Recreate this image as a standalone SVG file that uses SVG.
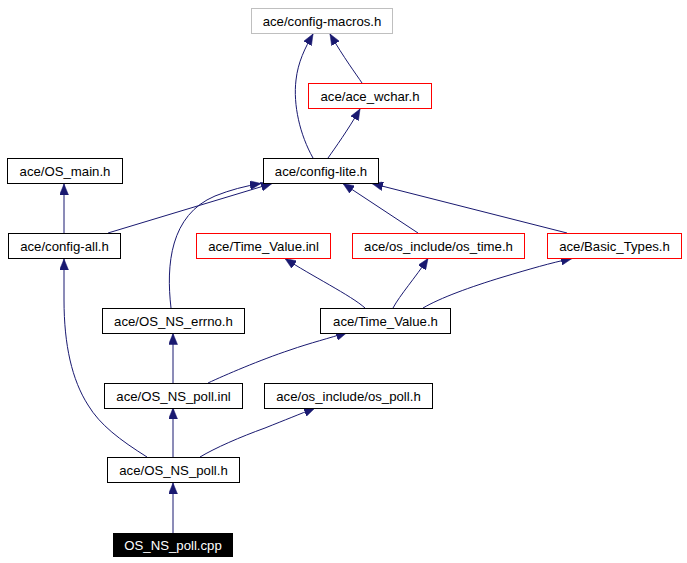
<svg xmlns="http://www.w3.org/2000/svg" width="687" height="563" viewBox="0 0 687 563">
<style>
.n rect{fill:#ffffff;stroke:#000000;stroke-width:1}
.n.red rect{stroke:#ff0000}
.n.gray rect{stroke:#bfbfbf}
.n.root rect{fill:#000000;stroke:#000000}
.n text{font-family:"Liberation Sans",Arial,sans-serif;font-size:13.2px;fill:#000000;text-anchor:middle}
.n.root text{fill:#ffffff}
#edges path{fill:none;stroke:#191970;stroke-width:1;marker-end:url(#arr)}
</style>
<defs>
<marker id="arr" viewBox="0 0 11 9" refX="11" refY="4.5" markerWidth="11" markerHeight="9" markerUnits="userSpaceOnUse" orient="auto">
<path d="M0,0 L11,4.5 L0,9 z" fill="#191970" stroke="#191970" stroke-width="0.5"/>
</marker>
</defs>
<rect x="0" y="0" width="687" height="563" fill="#ffffff"/>
<g id="edges">
<path d="M313,158 C300,135 293,105 296,80 C298,62 305,48 313,34"/>
<path d="M362,83 C356,74 344,58 330,34"/>
<path d="M328,158 C335,148 348,130 360,109"/>
<path d="M64,233 L64,184"/>
<path d="M108,233 L272,183.5"/>
<path d="M171,308 C166,265 170,215 215,196 C230,190 245,186 261,183.5"/>
<path d="M418,233 L343,183.5"/>
<path d="M567,233 L372,183.5"/>
<path d="M365,308 C352,296 310,275 285,258.5"/>
<path d="M393,308 C400,295 415,278 428,258.5"/>
<path d="M423,308 C440,298 470,287 503,277 C530,269 550,263 572,258.5"/>
<path d="M173,383 L173,333.5"/>
<path d="M208,383 C225,375 260,360 290,350 C310,343 330,338 347,332.5"/>
<path d="M147,457 C120,440 100,425 88,405 C72,380 64,345 64,300 L64,259"/>
<path d="M173,457 L173,408"/>
<path d="M200,457 C215,448 240,437 265,428 C285,420 300,414 315,408"/>
<path d="M173,533 L173,483"/>
</g>
<g id="n_config_macros" class="n gray"><rect x="251.5" y="8.5" width="141" height="25"/><text x="322" y="26">ace/config-macros.h</text></g>
<g id="n_ace_wchar" class="n red"><rect x="308.5" y="83.5" width="123" height="25"/><text x="370" y="101">ace/ace_wchar.h</text></g>
<g id="n_os_main" class="n"><rect x="7.5" y="158.5" width="115" height="25"/><text x="65" y="176">ace/OS_main.h</text></g>
<g id="n_config_lite" class="n"><rect x="263.5" y="158.5" width="115" height="25"/><text x="321" y="176">ace/config-lite.h</text></g>
<g id="n_config_all" class="n"><rect x="8.5" y="233.5" width="112" height="25"/><text x="64.5" y="251">ace/config-all.h</text></g>
<g id="n_time_value_inl" class="n red"><rect x="196.5" y="233.5" width="134" height="25"/><text x="263.5" y="251">ace/Time_Value.inl</text></g>
<g id="n_os_time" class="n red"><rect x="352.5" y="233.5" width="172" height="25"/><text x="438.5" y="251">ace/os_include/os_time.h</text></g>
<g id="n_basic_types" class="n red"><rect x="547.5" y="233.5" width="134" height="25"/><text x="614.5" y="251">ace/Basic_Types.h</text></g>
<g id="n_os_ns_errno" class="n"><rect x="102.5" y="308.5" width="142" height="25"/><text x="173.5" y="326">ace/OS_NS_errno.h</text></g>
<g id="n_time_value_h" class="n"><rect x="320.5" y="308.5" width="130" height="25"/><text x="385.5" y="326">ace/Time_Value.h</text></g>
<g id="n_os_ns_poll_inl" class="n"><rect x="104.5" y="383.5" width="138" height="25"/><text x="173.5" y="401">ace/OS_NS_poll.inl</text></g>
<g id="n_os_poll" class="n"><rect x="264.5" y="383.5" width="168" height="25"/><text x="348.5" y="401">ace/os_include/os_poll.h</text></g>
<g id="n_os_ns_poll_h" class="n"><rect x="107.5" y="457.5" width="132" height="25"/><text x="173.5" y="475">ace/OS_NS_poll.h</text></g>
<g id="n_os_ns_poll_cpp" class="n root"><rect x="113.5" y="533.5" width="119" height="23"/><text x="173" y="550">OS_NS_poll.cpp</text></g>
</svg>
